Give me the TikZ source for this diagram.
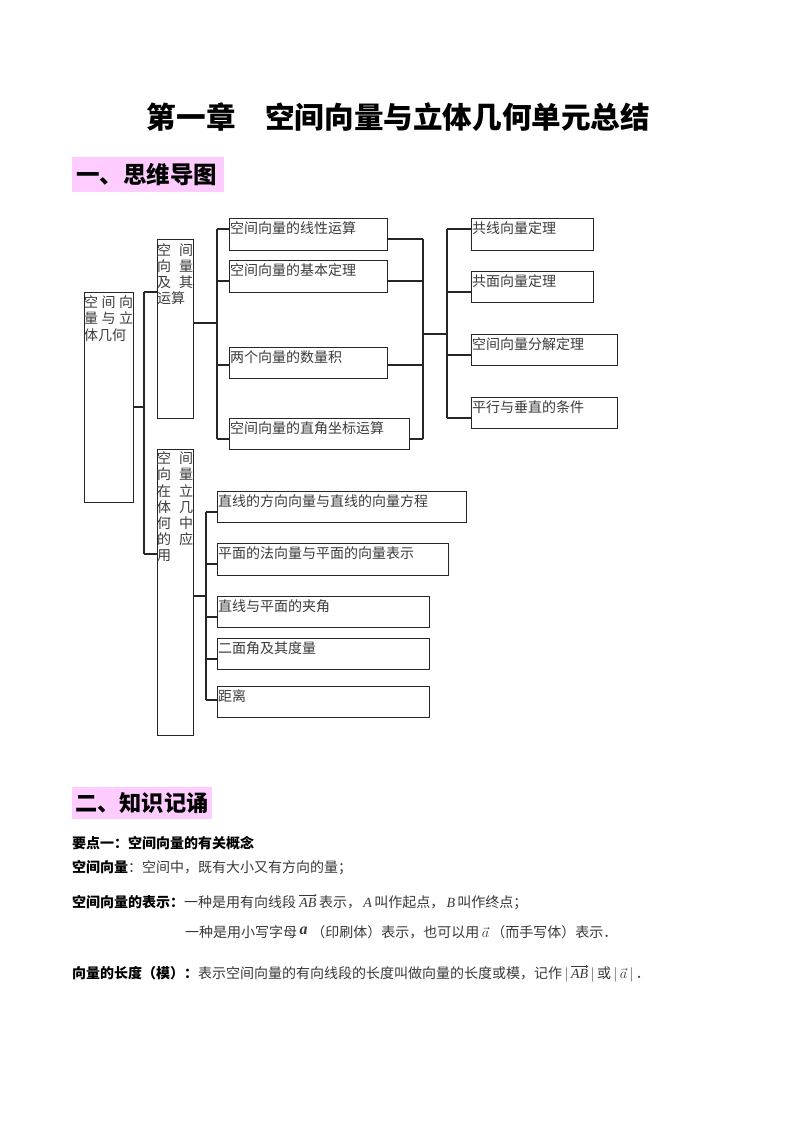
\documentclass[tikz,border=0pt]{standalone}
\usepackage{amsmath}
\usepackage{fontspec}
\usetikzlibrary{arrows.meta}
\setmainfont{Noto Sans CJK SC}
\newfontfamily\lat{Liberation Serif}
\definecolor{pinkbg}{HTML}{FFCCFF}
\definecolor{ln}{HTML}{262626}
\definecolor{mt}{HTML}{3A3A3A}
\definecolor{bt}{HTML}{383838}
\newcommand\fs[1]{\fontsize{#1}{#1}\selectfont}
\newcommand\arrw{\tikz[x=1pt,y=1pt,baseline=0pt]\draw[line width=0.5pt,-{To[length=2.2pt,width=3pt]}] (0,0)--(17,0);}
\newcommand\vAB{\ensuremath{\overset{\arrw}{\text{\lat\itshape AB}}}}
\begin{document}
\begin{tikzpicture}[x=1pt,y=-1pt,
  box/.style={draw=ln,line width=1.3pt,inner sep=0pt,anchor=north west},
  btxt/.style={anchor=west,inner sep=0pt,text=mt,font=\fs{14}},
  conn/.style={draw=ln,line width=1.3pt},
  head/.style={fill=pinkbg,inner sep=0pt,anchor=north west},
  htxt/.style={anchor=west,inner sep=0pt,font=\bfseries},
  body/.style={anchor=west,inner sep=0pt,font=\fs{14}}]
\useasboundingbox (0,0) rectangle (800,1132);

% title
\node[inner sep=0pt,font=\fs{29.6}\bfseries] (title) at (398.5,117) {第一章　空间向量与立体几何单元总结};

% heading 1
\node[head,minimum width=152,minimum height=35] (h1) at (72,157) {};
\node[htxt,font=\fs{23.5}\bfseries] (h1t) at (76,174.5) {一、思维导图};

% ---- mind map boxes ----
\node[box,minimum width=49,minimum height=210] (root) at (84,292) {};
\node[btxt] (rt1) at (84,302) {\makebox[49pt]{空\hfill 间\hfill 向}};
\node[btxt] (rt2) at (84,318.5) {\makebox[49pt]{量\hfill 与\hfill 立}};
\node[btxt] (rt3) at (84,335) {体几何};

\node[box,minimum width=36,minimum height=179] (b1) at (157,239) {};
\node[btxt] (b1r1) at (157,250) {\makebox[36pt]{空\hfill 间}};
\node[btxt] (b1r2) at (157,266) {\makebox[36pt]{向\hfill 量}};
\node[btxt] (b1r3) at (157,282) {\makebox[36pt]{及\hfill 其}};
\node[btxt] (b1r4) at (157,298) {运算};

\node[box,minimum width=36,minimum height=286] (b2) at (157,449) {};
\node[btxt] (b2r1) at (157,458) {\makebox[36pt]{空\hfill 间}};
\node[btxt] (b2r2) at (157,474.5) {\makebox[36pt]{向\hfill 量}};
\node[btxt] (b2r3) at (157,491) {\makebox[36pt]{在\hfill 立}};
\node[btxt] (b2r4) at (157,507) {\makebox[36pt]{体\hfill 几}};
\node[btxt] (b2r5) at (157,523.5) {\makebox[36pt]{何\hfill 中}};
\node[btxt] (b2r6) at (157,539.5) {\makebox[36pt]{的\hfill 应}};
\node[btxt] (b2r7) at (157,556) {用};

\node[box,minimum width=158,minimum height=32] (c1) at (229,218) {};
\node[btxt] (c1t) at ([shift={(1,10)}]c1.north west) {空间向量的线性运算};
\node[box,minimum width=158,minimum height=32] (c2) at (229,260) {};
\node[btxt] (c2t) at ([shift={(1,10)}]c2.north west) {空间向量的基本定理};
\node[box,minimum width=158,minimum height=31] (c3) at (229,347) {};
\node[btxt] (c3t) at ([shift={(1,10)}]c3.north west) {两个向量的数量积};
\node[box,minimum width=180,minimum height=31] (c4) at (229,418) {};
\node[btxt] (c4t) at ([shift={(1,10)}]c4.north west) {空间向量的直角坐标运算};

\node[box,minimum width=122,minimum height=32] (d1) at (471,218) {};
\node[btxt] (d1t) at ([shift={(1,10)}]d1.north west) {共线向量定理};
\node[box,minimum width=122,minimum height=31] (d2) at (471,271) {};
\node[btxt] (d2t) at ([shift={(1,10)}]d2.north west) {共面向量定理};
\node[box,minimum width=146,minimum height=31] (d3) at (471,334) {};
\node[btxt] (d3t) at ([shift={(1,10)}]d3.north west) {空间向量分解定理};
\node[box,minimum width=146,minimum height=31] (d4) at (471,397) {};
\node[btxt] (d4t) at ([shift={(1,10)}]d4.north west) {平行与垂直的条件};

\node[box,minimum width=249,minimum height=31] (e1) at (217,491) {};
\node[btxt] (e1t) at ([shift={(1,10)}]e1.north west) {直线的方向向量与直线的向量方程};
\node[box,minimum width=231,minimum height=32] (e2) at (217,543) {};
\node[btxt] (e2t) at ([shift={(1,10)}]e2.north west) {平面的法向量与平面的向量表示};
\node[box,minimum width=212,minimum height=31] (e3) at (217,596) {};
\node[btxt] (e3t) at ([shift={(1,10)}]e3.north west) {直线与平面的夹角};
\node[box,minimum width=212,minimum height=31] (e4) at (217,638) {};
\node[btxt] (e4t) at ([shift={(1,10)}]e4.north west) {二面角及其度量};
\node[box,minimum width=212,minimum height=31] (e5) at (217,686) {};
\node[btxt] (e5t) at ([shift={(1,10)}]e5.north west) {距离};

% ---- connectors ----
\coordinate (r0) at (144,407);
\coordinate (r1) at (144,292);
\coordinate (r2) at (144,554);
\draw[conn] (r0 -| root.east) -- (r0);
\draw[conn] (r1) -- (r2);
\draw[conn] (r1) -- (r1 -| b1.west);
\draw[conn] (r2) -- (r2 -| b2.west);

\coordinate (k0) at (217,323);
\coordinate (k1) at (217,229);
\coordinate (k2) at (217,281);
\coordinate (k3) at (217,365);
\coordinate (k4) at (217,439);
\draw[conn] (k0 -| b1.east) -- (k0);
\draw[conn] (k1) -- (k4);
\draw[conn] (k1) -- (k1 -| c1.west);
\draw[conn] (k2) -- (k2 -| c2.west);
\draw[conn] (k3) -- (k3 -| c3.west);
\draw[conn] (k4) -- (k4 -| c4.west);

\coordinate (m1) at (423,239);
\coordinate (m2) at (423,281);
\coordinate (m3) at (423,365);
\coordinate (m4) at (423,439);
\coordinate (m0) at (423,334);
\draw[conn] (m1 -| c1.east) -- (m1);
\draw[conn] (m2 -| c2.east) -- (m2);
\draw[conn] (m3 -| c3.east) -- (m3);
\draw[conn] (m4 -| c4.east) -- (m4);
\draw[conn] (m1) -- (m4);

\coordinate (n0) at (447,334);
\coordinate (n1) at (447,229);
\coordinate (n2) at (447,292);
\coordinate (n3) at (447,355);
\coordinate (n4) at (447,418);
\draw[conn] (m0) -- (n0);
\draw[conn] (n1) -- (n4);
\draw[conn] (n1) -- (n1 -| d1.west);
\draw[conn] (n2) -- (n2 -| d2.west);
\draw[conn] (n3) -- (n3 -| d3.west);
\draw[conn] (n4) -- (n4 -| d4.west);

\coordinate (p0) at (206,596);
\coordinate (p1) at (206,512);
\coordinate (p2) at (206,564);
\coordinate (p3) at (206,617);
\coordinate (p4) at (206,659);
\coordinate (p5) at (206,700);
\draw[conn] (p0 -| b2.east) -- (p0);
\draw[conn] (p1) -- (p5);
\draw[conn] (p1) -- (p1 -| e1.west);
\draw[conn] (p2) -- (p2 -| e2.west);
\draw[conn] (p3) -- (p3 -| e3.west);
\draw[conn] (p4) -- (p4 -| e4.west);
\draw[conn] (p5) -- (p5 -| e5.west);

% heading 2
\node[head,minimum width=140,minimum height=32] (h2) at (72,787) {};
\node[htxt,font=\fs{22.2}\bfseries] (h2t) at (75,803.5) {二、知识记诵};

% body text
\node[body,font=\fs{14}\bfseries] (l1) at (72,843) {要点一：空间向量的有关概念};
\node[body] (l2) at (72,868) {\textbf{空间向量}\color{bt}：空间中，既有大小又有方向的量；};
\node[body] (l3) at (72,901) {\textbf{空间向量的表示：}\color{bt}一种是用有向线段\hspace{3pt}\vAB\,表示，\,{\lat\itshape A\,}叫作起点，\,{\lat\itshape B\,}叫作终点；};
\node[body] (l4) at (185,932) {\color{bt}一种是用小写字母\,\raisebox{3pt}{\fontsize{16}{16}\lat\bfseries\itshape a}\;（印刷体）表示，也可以用\,$\vec{a}$\,（而手写体）表示．};
\node[body] (l5) at (72,973) {\textbf{向量的长度（模）：}\color{bt}表示空间向量的有向线段的长度叫做向量的长度或模，记作\,$|$\,\vAB\,$|$\,或\,$|\,\vec{a}\,|$\,．};
\end{tikzpicture}
\end{document}
